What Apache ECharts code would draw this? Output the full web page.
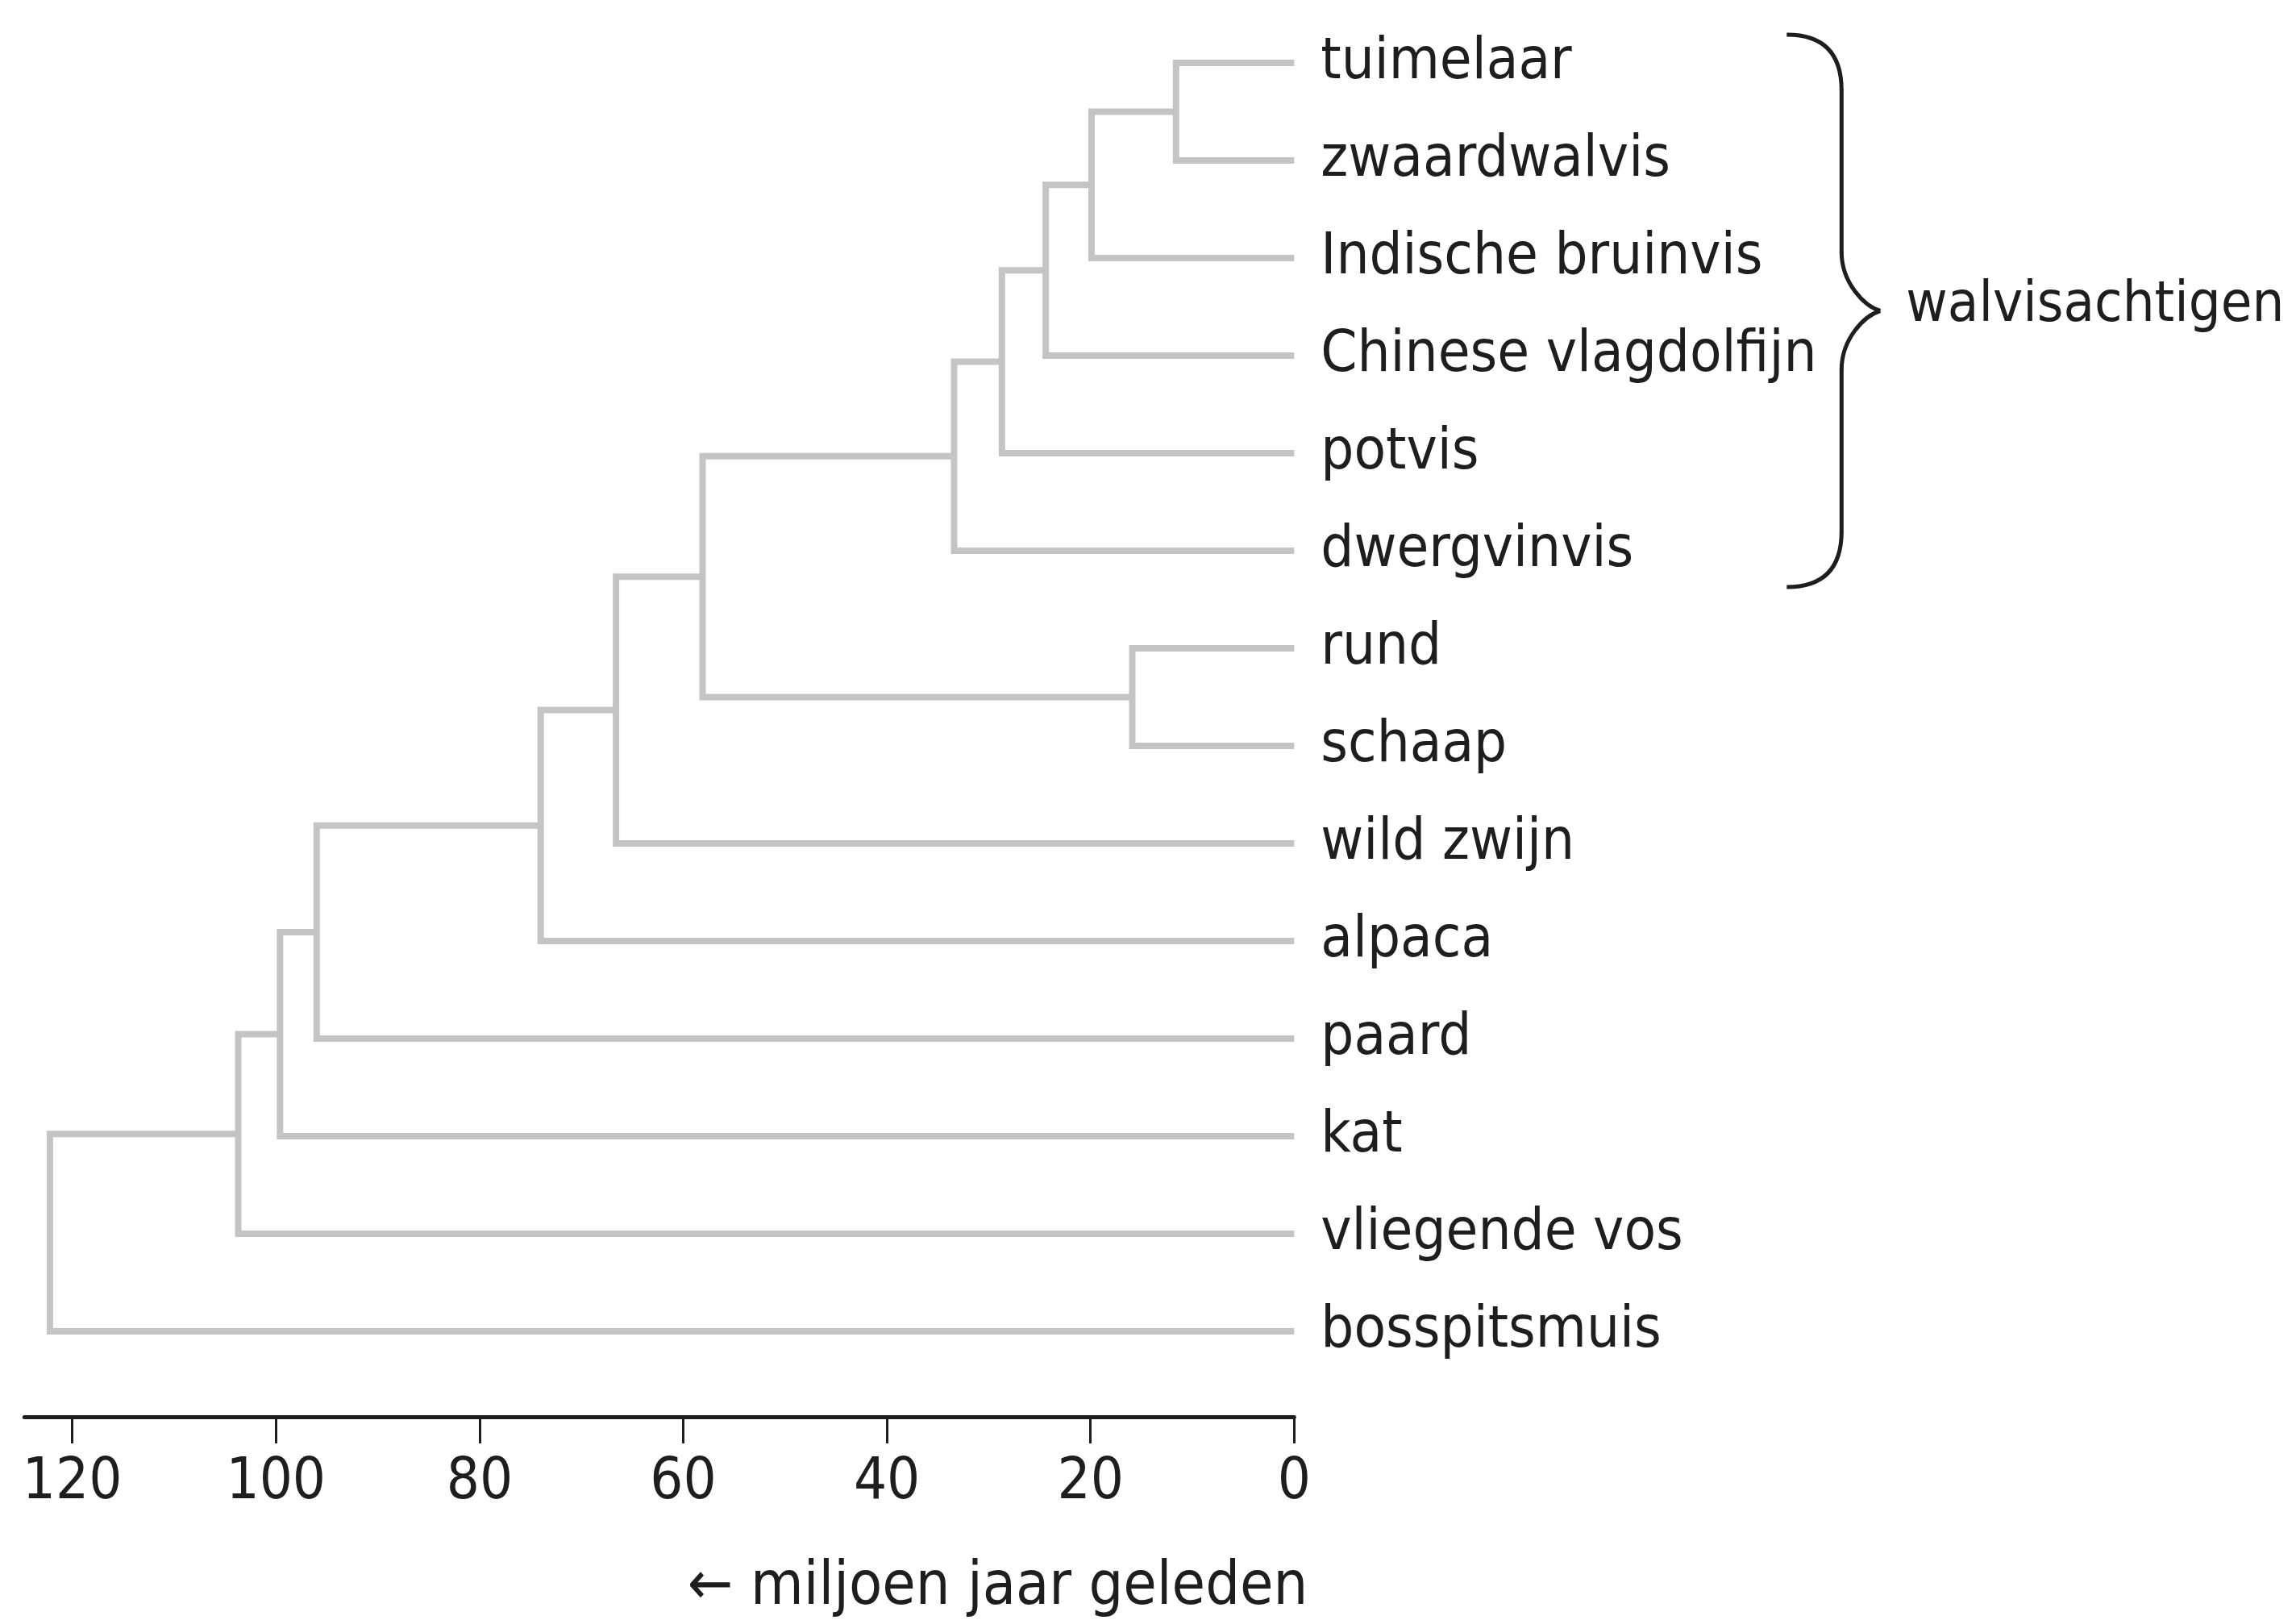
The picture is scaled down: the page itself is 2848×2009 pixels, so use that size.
<!DOCTYPE html>
<html>
<head>
<meta charset="utf-8">
<script src="https://cdn.jsdelivr.net/npm/echarts@6/dist/echarts.min.js"></script>
<style>
  html, body { margin: 0; padding: 0; background: #ffffff; }
  #chart { width: 2848px; height: 2009px; }
</style>
</head>
<body>
<div id="chart"></div>
<script>
// ---- data ----
const leaves = ['tuimelaar', 'zwaardwalvis', 'Indische bruinvis', 'Chinese vlagdolfijn', 'potvis',
  'dwergvinvis', 'rund', 'schaap', 'wild zwijn', 'alpaca', 'paard', 'kat', 'vliegende vos', 'bosspitsmuis'];
const nodeIds = ['n1', 'n2', 'n3', 'n4', 'n5', 'n6', 'n7', 'n8', 'n9', 'n10', 'n11', 'n12', 'n13'];
const nodeAges = [11.6, 19.9, 24.4, 28.7, 33.4, 15.9, 58.1, 66.6, 74.0, 96.0, 99.6, 103.7, 122.2];
const nodeChildren = [
  ['tuimelaar', 'zwaardwalvis'],
  ['n1', 'Indische bruinvis'],
  ['n2', 'Chinese vlagdolfijn'],
  ['n3', 'potvis'],
  ['n4', 'dwergvinvis'],
  ['rund', 'schaap'],
  ['n5', 'n6'],
  ['n7', 'wild zwijn'],
  ['n8', 'alpaca'],
  ['n9', 'paard'],
  ['n10', 'kat'],
  ['n11', 'vliegende vos'],
  ['n12', 'bosspitsmuis']
];
const tickValues = [0, 20, 40, 60, 80, 100, 120];
const axisTitle = '\u2190 miljoen jaar geleden';
const groupLabel = 'walvisachtigen';
const groupRange = ['tuimelaar', 'dwergvinvis'];

// ---- build tree geometry in data space ----
const pos = {};
leaves.forEach((name, i) => { pos[name] = { age: 0, y: i }; });
const segData = nodeIds.map((id, k) => {
  const a = pos[nodeChildren[k][0]];
  const b = pos[nodeChildren[k][1]];
  pos[id] = { age: nodeAges[k], y: (a.y + b.y) / 2 };
  return [nodeAges[k], a.age, a.y, b.age, b.y];
});
const rowIdx = leaves.map((_, i) => i);

const FONT = "'DejaVu Sans Condensed', Roboto, 'DejaVu Sans', sans-serif";
const TXT = '#1e1e1e';
const LINE = '#c4c4c4';

const chart = echarts.init(document.getElementById('chart'), null, { renderer: 'canvas' });
chart.setOption({
  animation: false,
  backgroundColor: '#ffffff',
  grid: { left: 30.3, right: 1242.7, top: 17.5, bottom: 297.5, containLabel: false },
  xAxis: {
    type: 'value', inverse: true, min: 0, max: 124.7, offset: 45.5, position: 'bottom',
    axisLine: { show: true, onZero: false, lineStyle: { color: TXT, width: 5 } },
    axisTick: { show: true, customValues: tickValues, length: 33, lineStyle: { color: TXT, width: 3 } },
    axisLabel: { customValues: tickValues, fontSize: 72, color: TXT, margin: 46, fontFamily: FONT },
    splitLine: { show: false }
  },
  yAxis: {
    type: 'value', inverse: true, min: -0.5, max: 13.5, position: 'right',
    axisLine: { show: false, onZero: false }, axisTick: { show: false }, splitLine: { show: false },
    axisLabel: {
      customValues: rowIdx, formatter: v => leaves[Math.round(v)],
      fontSize: 72, color: TXT, margin: 33, fontFamily: FONT, align: 'left'
    }
  },
  series: [{
    type: 'custom',
    clip: false,
    silent: true,
    data: segData,
    encode: { x: [0, 1, 3], y: [2, 4] },
    renderItem: function (params, api) {
      const p1 = api.coord([api.value(1), api.value(2)]);
      const p2 = api.coord([api.value(0), api.value(2)]);
      const p3 = api.coord([api.value(0), api.value(4)]);
      const p4 = api.coord([api.value(3), api.value(4)]);
      return {
        type: 'polyline',
        shape: { points: [p1, p2, p3, p4] },
        style: { stroke: LINE, lineWidth: 8, fill: null, lineJoin: 'miter', lineCap: 'butt' }
      };
    }
  }]
});

// ---- annotations positioned from the axes ----
(function () {
  const y0 = chart.convertToPixel({ yAxisIndex: 0 }, pos[groupRange[0]].y);
  const y1 = chart.convertToPixel({ yAxisIndex: 0 }, pos[groupRange[1]].y);
  const xr = chart.convertToPixel({ xAxisIndex: 0 }, 0);
  const bTop = y0 - 35, bBot = y1 + 45, bMid = (bTop + bBot) / 2;
  const bx0 = xr + 611, bx1 = bx0 + 68, tipX = bx0 + 116;
  const st = { stroke: TXT, lineWidth: 5, fill: null, lineCap: 'butt' };
  const curve = (x1, y1, cx1, cy1, cx2, cy2, x2, y2) => ({
    type: 'bezierCurve', silent: true, style: st,
    shape: { x1: x1, y1: y1, cpx1: cx1, cpy1: cy1, cpx2: cx2, cpy2: cy2, x2: x2, y2: y2 }
  });
  const seg = (x1, y1, x2, y2) => ({ type: 'line', silent: true, style: st, shape: { x1: x1, y1: y1, x2: x2, y2: y2 } });
  chart.setOption({
    graphic: [
      curve(bx0, bTop, bx0 + 49, bTop, bx1, bTop + 27, bx1, bTop + 69),
      seg(bx1, bTop + 68, bx1, bMid - 72),
      curve(bx1, bMid - 73, bx1, bMid - 35, bx1 + 28, bMid - 6, tipX, bMid),
      curve(tipX, bMid, bx1 + 28, bMid + 6, bx1, bMid + 35, bx1, bMid + 73),
      seg(bx1, bMid + 72, bx1, bBot - 68),
      curve(bx1, bBot - 69, bx1, bBot - 27, bx0 + 49, bBot, bx0, bBot),
      { type: 'text', x: tipX + 32, y: bMid - 6, silent: true,
        style: { text: groupLabel, font: '70px ' + FONT, fill: TXT, textAlign: 'left', textVerticalAlign: 'middle' } },
      { type: 'text', x: xr + 17, y: 1970, silent: true,
        style: { text: axisTitle, font: '75px ' + FONT, fill: TXT, textAlign: 'right', textVerticalAlign: 'middle' } }
    ]
  });
})();
</script>
</body>
</html>
